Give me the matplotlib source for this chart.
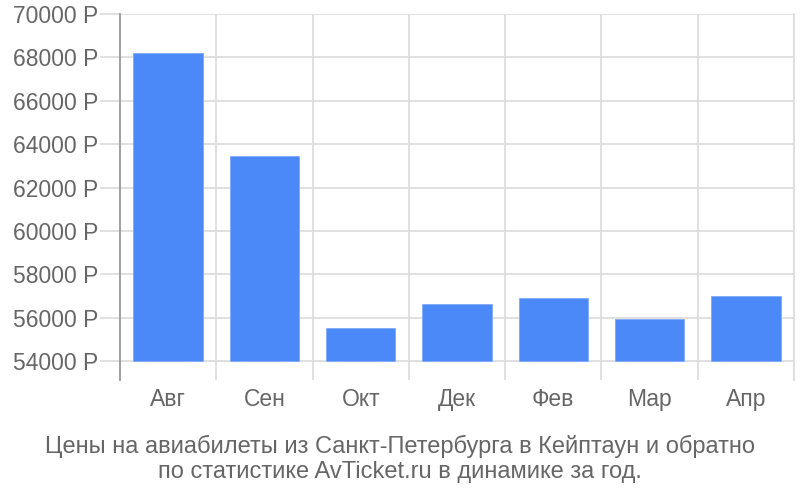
import matplotlib
matplotlib.use("Agg")
import matplotlib.pyplot as plt
import numpy as np

categories = ["Авг", "Сен", "Окт", "Дек", "Фев", "Мар", "Апр"]
prices = [68200, 63450, 55550, 56640, 56930, 55950, 57010]
yticks = [54000, 56000, 58000, 60000, 62000, 64000, 66000, 68000, 70000]
caption_lines = ["Цены на авиабилеты из Санкт-Петербурга в Кейптаун и обратно",
                 "по статистике AvTicket.ru в динамике за год."]

plt.rcParams['font.family'] = ['Liberation Sans', 'DejaVu Sans']
text_color = '#666666'
grid_color = '#dddddd'
bar_color = '#4c89f8'
base = 54000

fig = plt.figure(figsize=(8, 5), dpi=100)
ax = fig.add_axes([120/800, 120/500, 674/800, 366/500])

x = np.arange(len(categories))
ax.bar(x, [p - base for p in prices], bottom=base, width=0.72,
       color=bar_color, edgecolor='#7fa9fb', linewidth=0.6, zorder=3)

ax.set_xlim(-0.5, len(categories) - 0.5)
ax.set_ylim(53140, 70000)

for t in yticks:
    ax.axhline(t, color=grid_color, linewidth=1.3, zorder=1)
for b in np.arange(0.5, len(categories) - 0.5 + 1e-9, 1.0):
    ax.axvline(b, color=grid_color, linewidth=1.3, zorder=1)

ax.set_yticks(yticks)
ax.set_yticklabels([f"{t} Р" for t in yticks])
ax.set_xticks(x)
ax.set_xticklabels(categories)
ax.tick_params(axis='y', length=14.4, width=1.3, color=grid_color, pad=1.5,
               labelsize=16.5, labelcolor=text_color)
ax.tick_params(axis='x', length=0, pad=5.5, labelsize=16.5, labelcolor=text_color)

for s in ['top', 'bottom']:
    ax.spines[s].set_visible(False)
ax.spines['right'].set_color(grid_color)
ax.spines['right'].set_linewidth(1.3)
ax.spines['left'].set_color('#999999')
ax.spines['left'].set_linewidth(1.3)
ax.spines['left'].set_zorder(4)

for i, line in enumerate(caption_lines):
    fig.text(0.5, (500 - 446 - 26 * i) / 500, line, ha='center', va='center',
             fontsize=17, color=text_color)

fig.savefig("out.png", dpi=100)
